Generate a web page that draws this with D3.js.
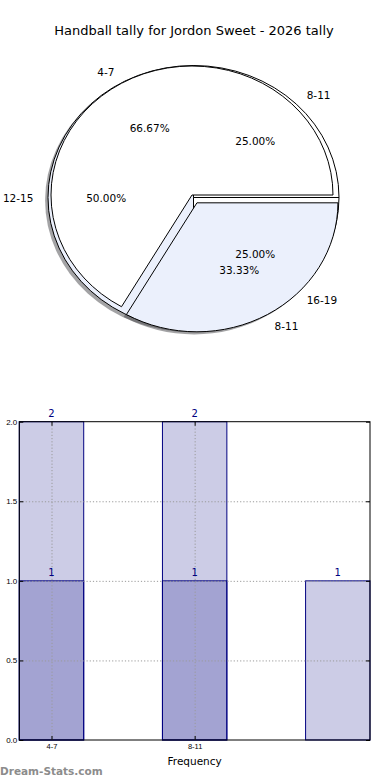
<!DOCTYPE html>
<html lang="en">
<head>
    <meta charset="UTF-8">
    <title>Handball tally for Jordon Sweet - 2026 tally</title>
    <style>
        body { margin: 0; background: #fff; }
        svg { display: block; font-family: "DejaVu Sans", sans-serif; }
        .wedge { stroke: #000; stroke-width: 1px; vector-effect: non-scaling-stroke; }
        .pie-text { font-size: 10.5px; fill: #000; }
        .axis text { font-size: 7.5px; fill: #000; }
        .axis.yaxis text { font-size: 8px; }
        .axis line { stroke: #000; }
        .grid line { stroke: #9a9a9a; stroke-dasharray: 1.2, 2; }
        .bar { stroke: #000080; stroke-width: 1px; fill: #000080; fill-opacity: 0.2; }
        .bar-label { font-size: 10px; fill: #000080; text-anchor: middle; }
    </style>
    <script src="https://d3js.org/d3.v7.min.js"></script>
</head>
<body>
    <div id="graph"></div>
    <script>
        // pie data (two tallies drawn on the same axes)
        const pieALabels = ["4-7", "8-11"];
        const pieAValues = [2, 1];
        const pieAColors = ["#ffffff", "#ebf0fc"];
        const pieAExplode = [0, 0.07];

        const pieBLabels = ["8-11", "12-15", "16-19"];
        const pieBValues = [1, 2, 1];
        const pieBColors = ["#ffffff", "#ebf0fc", "#ffffff"];
        const pieBExplode = [0, 0, 0];

        // bar data
        const barCategories = ["4-7", "8-11", ""];
        const barOuter = [2, 2, 1];
        const barInner = [1, 1, 0];
        const yTicks = [0, 0.5, 1.0, 1.5, 2.0];

        const width = 390, height = 780;
        const svg = d3.select("#graph").append("svg")
            .attr("width", width)
            .attr("height", height);

        svg.append("text")
            .attr("x", 194)
            .attr("y", 30)
            .attr("text-anchor", "middle")
            .attr("dominant-baseline", "central")
            .style("font-size", "13px")
            .text("Handball tally for Jordon Sweet - 2026 tally");

        // matplotlib style: start at 3 o'clock, counter clockwise
        const pieGen = d3.pie().sort(null).value(d => d)
            .startAngle(Math.PI / 2)
            .endAngle(Math.PI / 2 - 2 * Math.PI);
        const arcGen = d3.arc().innerRadius(0).outerRadius(1);
        const pctFormat = v => d3.format(".2f")(v) + "%";

        function makePie(labels, values, colors, explode, geo) {
            const total = d3.sum(values);
            const sx = d3.scaleLinear().domain([-1, 1]).range([geo.cx - geo.rx, geo.cx + geo.rx]);
            const sy = d3.scaleLinear().domain([-1, 1]).range([geo.cy - geo.ry, geo.cy + geo.ry]);
            return pieGen(values).map((a, i) => {
                const mid = (a.startAngle + a.endAngle) / 2;
                const ux = Math.sin(mid), uy = -Math.cos(mid);
                const e = explode[i];
                return {
                    arc: a,
                    label: labels[i],
                    pct: pctFormat(values[i] / total * 100),
                    color: colors[i],
                    ox: sx(ux * e), oy: sy(uy * e),
                    rx: geo.rx, ry: geo.ry,
                    lx: sx(ux * (1.1 + e)), ly: sy(uy * (1.1 + e)),
                    px: sx(ux * (0.6 + e)), py: sy(uy * (0.6 + e)),
                    anchor: ux < -1e-6 ? "end" : "start"
                };
            });
        }

        const wedgesB = makePie(pieBLabels, pieBValues, pieBColors, pieBExplode,
            { cx: 193.5, cy: 197.5, rx: 145.5, ry: 132 });
        const wedgesA = makePie(pieALabels, pieAValues, pieAColors, pieAExplode,
            { cx: 192, cy: 195, rx: 141, ry: 129 });
        const allWedges = wedgesB.concat(wedgesA);

        // shadows go under every wedge
        const shadowColor = c => {
            const rgb = d3.rgb(c);
            return `rgba(${rgb.r * 0.3},${rgb.g * 0.3},${rgb.b * 0.3},0.5)`;
        };
        svg.append("g").selectAll("path")
            .data(allWedges)
            .enter().append("path")
            .attr("transform", d => `translate(${d.ox - 0.02 * d.rx},${d.oy + 0.02 * d.ry}) scale(${d.rx},${d.ry})`)
            .attr("d", d => arcGen(d.arc))
            .attr("fill", d => shadowColor(d.color));

        svg.append("g").selectAll("path")
            .data(allWedges)
            .enter().append("path")
            .attr("class", "wedge")
            .attr("transform", d => `translate(${d.ox},${d.oy}) scale(${d.rx},${d.ry})`)
            .attr("d", d => arcGen(d.arc))
            .attr("fill", d => d.color);

        const pieText = svg.append("g");
        pieText.selectAll(".lbl")
            .data(allWedges)
            .enter().append("text")
            .attr("class", "pie-text")
            .attr("x", d => d.lx)
            .attr("y", d => d.ly)
            .attr("text-anchor", d => d.anchor)
            .attr("dominant-baseline", "central")
            .text(d => d.label);
        pieText.selectAll(".pct")
            .data(allWedges)
            .enter().append("text")
            .attr("class", "pie-text")
            .attr("x", d => d.px)
            .attr("y", d => d.py)
            .attr("text-anchor", "middle")
            .attr("dominant-baseline", "central")
            .text(d => d.pct);

        // ---- bar chart ----
        const plot = { left: 19.3, right: 370, top: 421.7, bottom: 740 };
        const barW = 0.45;
        const x = d3.scaleLinear()
            .domain([-barW / 2, barCategories.length - 1 + barW / 2])
            .range([plot.left, plot.right]);
        const y = d3.scaleLinear().domain([0, 2]).range([plot.bottom, plot.top]);
        const idx = d3.range(barCategories.length);
        const labelled = idx.filter(i => barCategories[i] !== "");

        const bars = svg.append("g");
        [barOuter, barInner].forEach(series => {
            bars.selectAll(null)
                .data(idx.filter(i => series[i] > 0))
                .enter().append("rect")
                .attr("class", "bar")
                .attr("x", i => x(i - barW / 2))
                .attr("y", i => y(series[i]))
                .attr("width", i => x(i + barW / 2) - x(i - barW / 2))
                .attr("height", i => y(0) - y(series[i]));
        });

        // grid
        svg.append("g")
            .attr("class", "grid")
            .attr("transform", `translate(${plot.left},0)`)
            .call(d3.axisLeft(y).tickValues(yTicks.slice(1, -1))
                .tickSize(-(plot.right - plot.left)).tickFormat(""))
            .call(g => g.select(".domain").remove());
        svg.append("g")
            .attr("class", "grid")
            .attr("transform", `translate(0,${plot.bottom})`)
            .call(d3.axisBottom(x).tickValues(labelled)
                .tickSize(-(plot.bottom - plot.top)).tickFormat(""))
            .call(g => g.select(".domain").remove());

        // value labels
        [barOuter, barInner].forEach(series => {
            svg.append("g").selectAll("text")
                .data(idx.filter(i => series[i] > 0))
                .enter().append("text")
                .attr("class", "bar-label")
                .attr("x", i => x(i))
                .attr("y", i => y(series[i]) - 5)
                .text(i => series[i]);
        });

        // frame and ticks
        svg.append("rect")
            .attr("x", plot.left).attr("y", plot.top)
            .attr("width", plot.right - plot.left)
            .attr("height", plot.bottom - plot.top)
            .attr("fill", "none").attr("stroke", "#000");

        svg.append("g")
            .attr("class", "axis yaxis")
            .attr("transform", `translate(${plot.left},0)`)
            .call(d3.axisLeft(y).tickValues(yTicks).tickSize(-4).tickPadding(2)
                .tickFormat(d3.format(".1f")))
            .call(g => g.select(".domain").remove());
        svg.append("g")
            .attr("class", "axis")
            .attr("transform", `translate(${plot.right},0)`)
            .call(d3.axisRight(y).tickValues(yTicks).tickSize(-4).tickFormat(""))
            .call(g => g.select(".domain").remove());
        svg.append("g")
            .attr("class", "axis")
            .attr("transform", `translate(0,${plot.bottom})`)
            .call(d3.axisBottom(x).tickValues(labelled).tickSize(-4).tickPadding(4)
                .tickFormat(i => barCategories[i]))
            .call(g => g.select(".domain").remove());
        svg.append("g")
            .attr("class", "axis")
            .attr("transform", `translate(0,${plot.top})`)
            .call(d3.axisTop(x).tickValues(labelled).tickSize(-4).tickFormat(""))
            .call(g => g.select(".domain").remove());

        svg.append("text")
            .attr("x", x(1))
            .attr("y", 761)
            .attr("text-anchor", "middle")
            .attr("dominant-baseline", "central")
            .style("font-size", "10.5px")
            .text("Frequency");

        svg.append("text")
            .attr("x", 0)
            .attr("y", 771)
            .attr("dominant-baseline", "central")
            .style("font-size", "10.5px")
            .style("font-weight", "bold")
            .style("fill", "#8c8c8c")
            .text("Dream-Stats.com");
    </script>
</body>
</html>
